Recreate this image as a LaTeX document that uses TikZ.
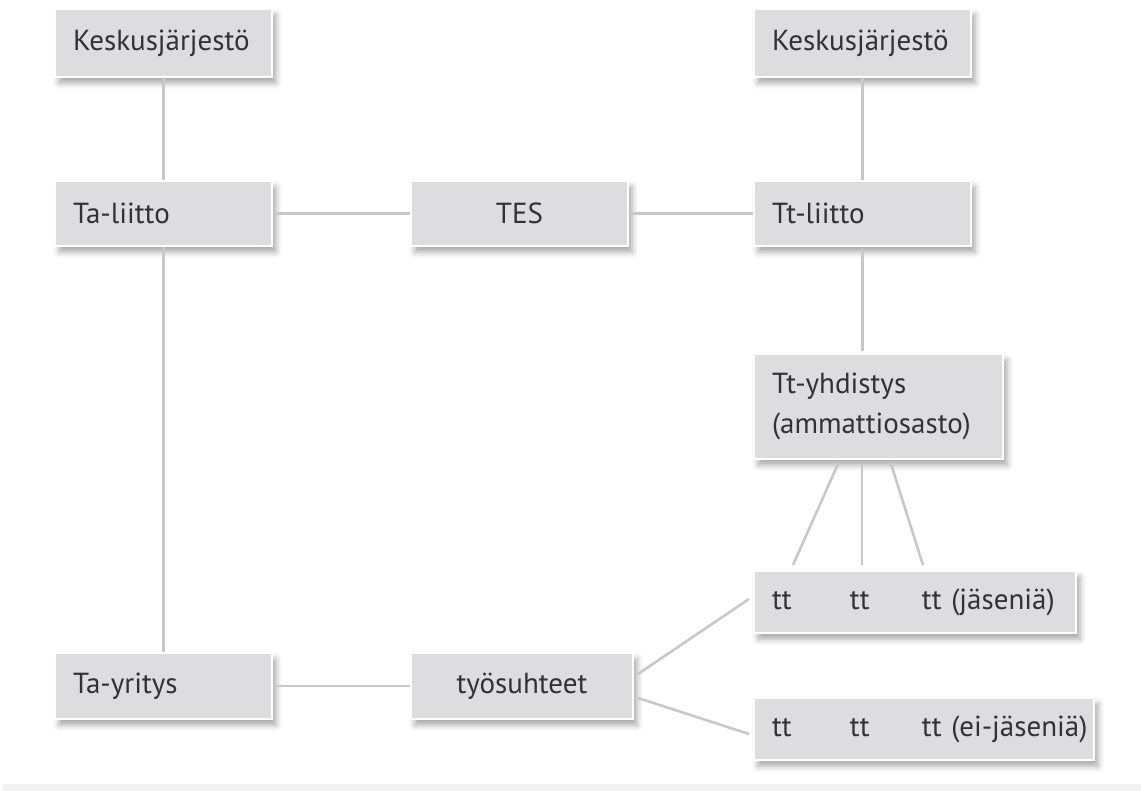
\documentclass[tikz,border=0pt]{standalone}
\usepackage{fontspec}
\setmainfont{PT Sans}
\usetikzlibrary{calc,shadows.blur}
\definecolor{boxgray}{RGB}{221,221,223}
\definecolor{linegray}{RGB}{200,200,202}
\definecolor{txtgray}{RGB}{50,50,52}
\definecolor{bandgray}{RGB}{243,243,243}
\tikzset{
  box/.style={anchor=north west, fill=boxgray, draw=white, line width=2pt,
    inner xsep=18pt, inner ysep=0pt, align=left, text=txtgray,
    font=\fontsize{29}{36}\selectfont,
    blur shadow={shadow xshift=4pt, shadow yshift=-6pt, shadow blur radius=6pt, shadow opacity=35}},
  cbox/.style={box, align=center},
  conn/.style={draw=linegray, line width=2.6pt}
}
\begin{document}
\begin{tikzpicture}[x=1pt,y=-1pt]
\useasboundingbox (0,0) rectangle (1141,791);
\fill[bandgray] (3,784) rectangle (1141,791);
% nodes
\node[box, text width=181pt, minimum height=68pt] (kL) at (54,8) {Keskusjärjestö};
\node[box, text width=181pt, minimum height=68pt] (kR) at (753,8) {Keskusjärjestö};
\node[box, text width=181pt, minimum height=65pt] (taL) at (54,180) {Ta-liitto};
\node[cbox, text width=181pt, minimum height=65pt] (tes) at (410,180) {TES};
\node[box, text width=181pt, minimum height=65pt] (ttL) at (753,180) {Tt-liitto};
\node[box, text width=213pt, minimum height=105pt, font=\fontsize{29}{40}\selectfont] (tty) at (753,353) {Tt-yhdistys\\(ammattiosasto)};
\node[box, text width=286pt, minimum height=62pt] (ttj) at (753,570) {\mbox{\makebox[78pt][l]{tt}\makebox[72pt][l]{tt}tt (jäseniä)}};
\node[box, inner xsep=12pt, text width=316pt, minimum height=62pt] (tte) at (753,697) {\mbox{\hspace{6pt}\makebox[78pt][l]{tt}\makebox[72pt][l]{tt}tt (ei-jäseniä)}};
\node[box, text width=181pt, minimum height=66pt] (tay) at (54,652) {Ta-yritys};
\node[cbox, text width=186pt, minimum height=66pt] (tyo) at (410,652) {työsuhteet};
% connectors
\draw[conn] (kL) -- (taL);
\draw[conn] (taL) -- (tes);
\draw[conn] (tes) -- (ttL);
\draw[conn] (kR) -- (ttL);
\draw[conn] ($(ttL.south)+(0,2)$) -- ($(ttL.south |- tty.north)+(0,-2)$);
\draw[conn] (taL) -- (tay);
\draw[conn] (tay) -- (tyo);
\draw[conn] ($(tty.south west)+(85,4)$) -- ($(ttj.north west)+(40,-5)$);
\draw[conn] ($(tty.south west)+(109,4)$) -- ($(ttj.north west)+(109,-5)$);
\draw[conn] ($(tty.south west)+(138,4)$) -- ($(ttj.north west)+(170,-5)$);
\draw[conn] ($(tyo.east)+(4,-12)$) -- ($(ttj.west)+(-4,-3)$);
\draw[conn] ($(tyo.east)+(4,12)$) -- ($(tte.west)+(-4,5)$);
\end{tikzpicture}
\end{document}
